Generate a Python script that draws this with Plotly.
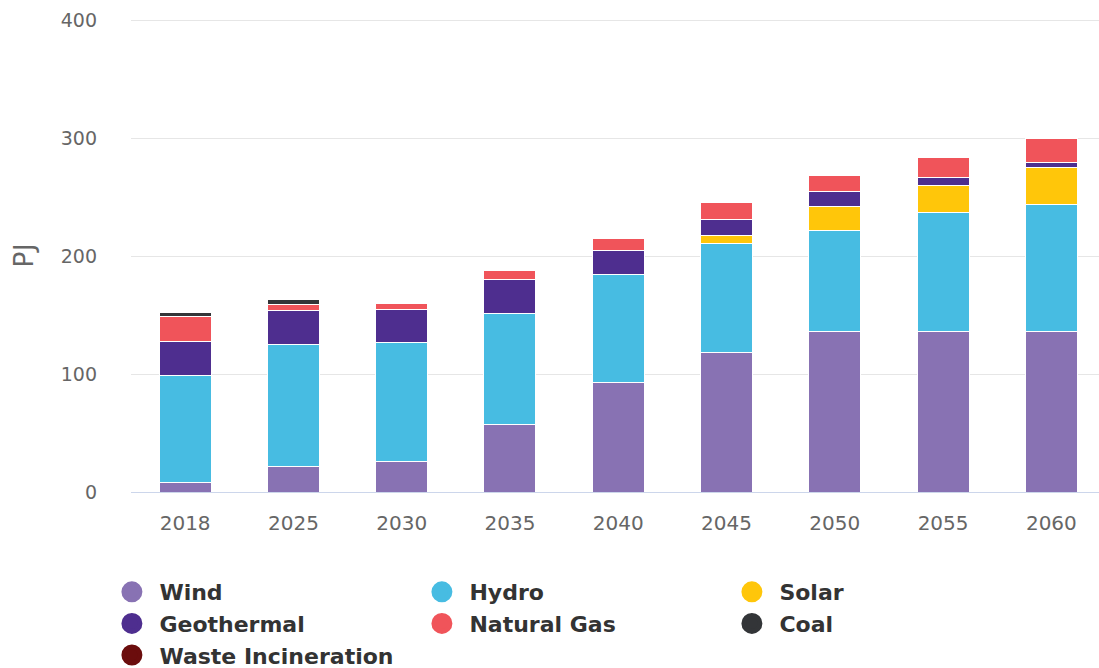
import plotly.graph_objects as go

years = ["2018", "2025", "2030", "2035", "2040", "2045", "2050", "2055", "2060"]
wind = [8, 21.5, 26, 57.5, 92.5, 118, 136, 136, 136]
hydro = [90.5, 103.5, 101, 94, 92, 93, 85.5, 101, 108]
solar = [0, 0, 0, 0, 0, 6.5, 20.5, 23, 31.5]
geothermal = [29.5, 29, 28, 29, 20.5, 13.5, 12.5, 6.5, 3.5]
natural_gas = [21, 5, 5, 7, 10, 14.5, 13.5, 17, 20.5]
coal = [3.5, 4, 0, 0, 0, 0, 0, 0, 0]
waste = [0, 0, 0, 0, 0, 0, 0, 0, 0]

series = [
    ("Wind", wind, "#8872b3"),
    ("Hydro", hydro, "#47bce2"),
    ("Solar", solar, "#ffc60a"),
    ("Geothermal", geothermal, "#4e2e8f"),
    ("Natural Gas", natural_gas, "#f0545a"),
    ("Coal", coal, "#333538"),
    ("Waste Incineration", waste, "#6b0d0d"),
]
legend_order = ["Wind", "Hydro", "Solar", "Geothermal", "Natural Gas", "Coal", "Waste Incineration"]

fig = go.Figure()
for name, vals, color in series:
    fig.add_trace(go.Bar(
        x=years, y=vals, name=name, showlegend=False,
        marker=dict(color=color, line=dict(color="white", width=1)),
    ))
colors = {n: c for n, _, c in series}
for name in legend_order:
    fig.add_trace(go.Scatter(
        x=[None], y=[None], mode="markers", name=name,
        marker=dict(color=colors[name], size=16, symbol="circle",
                    line=dict(color=colors[name], width=5)),
    ))

fig.update_layout(
    barmode="stack",
    bargap=0.52,
    width=1099, height=668,
    margin=dict(l=131, r=0, t=19, b=176, autoexpand=False),
    plot_bgcolor="white", paper_bgcolor="white",
    font=dict(family="DejaVu Sans", color="#666666"),
    legend=dict(
        orientation="h", xref="container", yref="container",
        x=0.095, y=1 - 571 / 668, yanchor="top", xanchor="left",
        entrywidth=250, entrywidthmode="pixels", itemwidth=45,
        font=dict(size=22, color="#333333", family="DejaVu Sans", weight="bold"),
        tracegroupgap=0, traceorder="normal",
    ),
    xaxis=dict(
        range=[-0.5, 8.44], showgrid=False, tickfont=dict(size=20, color="#666666"),
        ticks="", showline=False, ticklabelstandoff=17,
    ),
    yaxis=dict(
        range=[0, 401], tickvals=[0, 100, 200, 300, 400], showgrid=True,
        gridcolor="#e6e6e6", gridwidth=1, zeroline=True, zerolinecolor="#ccd6eb",
        zerolinewidth=1, tickfont=dict(size=19, color="#666666"),
        title=dict(text="PJ", font=dict(size=27, color="#666666"), standoff=19),
        ticklabelstandoff=33,
    ),
)

fig.write_html("out.html")
